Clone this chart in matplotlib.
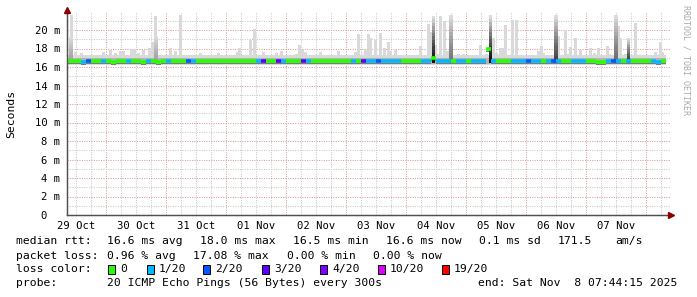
import matplotlib
matplotlib.use("Agg")
import matplotlib.pyplot as plt
from matplotlib.patches import Rectangle

# ---------------- data (x: hours since 29 Oct 00:00, y: milliseconds) ----------------
bin_start_hour = 8.0
bin_width_hours = 2.0

median_ms = [
    16.6, 16.6, 16.6, 16.5, 16.6, 16.6, 16.6, 16.6, 16.6, 16.5,
    16.6, 16.6, 16.6, 16.6, 16.6, 16.5, 16.6, 16.6, 16.5, 16.6,
    16.6, 16.6, 16.6, 16.6, 16.6, 16.6, 16.6, 16.6, 16.6, 16.6,
    16.6, 16.6, 16.6, 16.6, 16.6, 16.6, 16.6, 16.6, 16.6, 16.6,
    16.6, 16.6, 16.6, 16.6, 16.6, 16.6, 16.6, 16.6, 16.6, 16.6,
    16.6, 16.6, 16.6, 16.6, 16.6, 16.6, 16.6, 16.6, 16.6, 16.6,
    16.6, 16.6, 16.6, 16.6, 16.6, 16.6, 16.6, 16.6, 16.6, 16.6,
    16.6, 16.6, 16.6, 17.0, 16.6, 16.6, 16.6, 16.6, 16.6, 16.6,
    16.6, 16.6, 16.6, 16.6, 17.9, 16.6, 16.6, 16.6, 16.6, 16.6,
    16.6, 16.6, 16.6, 16.6, 16.6, 16.6, 16.6, 16.6, 16.6, 16.6,
    16.6, 16.6, 16.6, 16.6, 16.6, 16.6, 16.5, 16.5, 16.6, 16.6,
    16.6, 16.6, 16.6, 16.6, 16.6, 16.6, 16.6, 16.6, 16.5, 16.6,
]

loss_n = [
    0, 0, 0, 1, 2, 0, 0, 1, 0, 0,
    0, 0, 1, 0, 0, 0, 1, 0, 0, 0,
    1, 0, 0, 0, 2, 1, 0, 0, 0, 0,
    0, 0, 0, 0, 0, 0, 0, 0, 1, 3,
    0, 0, 3, 1, 0, 0, 0, 3, 1, 0,
    0, 0, 0, 0, 0, 0, 0, 1, 0, 3,
    1, 1, 2, 1, 1, 1, 1, 0, 0, 0,
    0, 1, 1, 0, 1, 1, 1, 0, 1, 1,
    0, 1, 1, 1, 0, 1, 0, 0, 0, 1,
    1, 1, 2, 1, 1, 0, 1, 2, 1, 0,
    0, 1, 1, 1, 0, 0, 0, 0, 1, 2,
    1, 0, 1, 0, 0, 0, 0, 1, 1, 0,
]

# typical ping spread ("smoke") around the median
smoke_low_ms = 16.2
smoke_high_ms = 17.25
inner_low_ms = 16.3
inner_high_ms = 17.0

# isolated slow pings (light smoke spikes)
spike_hours = [
    10.0, 11.6, 14.0, 15.2, 23.0, 26.0, 28.0, 30.0, 31.2, 32.8, 34.0, 35.2, 37.0, 39.0,
    41.2, 42.8, 44.0, 49.8, 52.0, 54.0, 55.2,
    62.0, 63.0, 69.0, 74.4, 76.4, 77.6, 82.0, 83.4, 85.0, 87.0, 92.0, 94.0, 100.0,
    101.2, 102.4,
    104.0, 105.2, 108.4, 110.0, 117.0, 123.0, 124.0, 125.0, 128.0, 129.0, 130.0, 132.0,
    134.0, 135.4, 137.0, 138.0, 140.0, 148.8, 150.0,
    153.0, 154.0, 155.0, 156.0, 157.2, 158.0, 159.4, 160.8, 162.0, 165.0, 167.0, 172.6,
    174.0, 176.4, 177.8, 179.2, 180.4, 182.0, 183.2, 184.0, 186.8, 188.0, 190.0, 192.4,
    193.6, 196.8, 198.0, 199.2,
    204.0, 205.0, 206.0, 208.0, 209.0, 210.0, 212.0, 214.0, 218.0, 219.4, 221.2, 222.6,
    224.8, 225.6, 228.0, 229.0, 230.0, 232.0, 233.0, 236.0, 237.0, 244.0, 246.0, 246.8,
]
spike_top_ms = [
    21.6, 17.6, 17.5, 17.3, 17.6, 17.8, 17.5, 17.7, 17.7, 17.2, 18.0, 18.0, 17.5, 17.8,
    18.1, 18.7, 21.5, 18.1, 17.7, 21.6, 17.3,
    17.5, 17.3, 17.5, 17.2, 17.6, 18.1, 18.9, 20.1, 17.1, 17.6, 17.5, 17.7, 17.4,
    18.4, 17.8,
    17.6, 17.3, 17.3, 17.6, 17.7, 17.2, 17.6, 19.6, 17.9, 19.6, 19.1, 18.9,
    19.7, 18.1, 18.7, 17.7, 17.8, 17.3, 18.3,
    20.6, 19.8, 21.5, 18.4, 17.4, 21.5, 21.0, 17.7, 21.6, 17.4, 17.4, 17.2,
    18.4, 17.4, 21.6, 19.1, 17.5, 18.1, 18.1, 20.5, 21.1, 21.1, 17.2, 17.2,
    17.3, 17.7, 18.3, 17.5,
    21.6, 19.3, 17.2, 20.0, 17.4, 18.2, 19.1, 17.8, 18.1, 17.5, 18.1, 17.2,
    18.3, 17.4, 21.6, 20.4, 19.1, 17.4, 19.1, 20.8, 17.2, 17.6, 18.7, 17.6,
]

# periods where many pings were slow (dense / dark smoke)
dense_hours = [10.0, 44.0, 155.0, 162.0, 177.8, 204.0, 228.0, 233.0]
dense_top_ms = [19.2, 19.3, 21.5, 21.6, 21.6, 21.6, 21.6, 19.1]
dense_shade = [0.3, 0.3, 1.0, 0.5, 1.0, 0.75, 0.55, 0.8]

day_label_hours = [12, 36, 60, 84, 108, 132, 156, 180, 204, 228]
day_labels = ["29 Oct", "30 Oct", "31 Oct", "01 Nov", "02 Nov",
              "03 Nov", "04 Nov", "05 Nov", "06 Nov", "07 Nov"]
y_ticks = [0, 2, 4, 6, 8, 10, 12, 14, 16, 18, 20]
y_labels = ["0  ", "2 m", "4 m", "6 m", "8 m", "10 m", "12 m",
            "14 m", "16 m", "18 m", "20 m"]

loss_levels = [0, 1, 2, 3, 4, 10, 19]
loss_colors = ["#26ff00", "#00b8ff", "#0059ff", "#5e00ff", "#7e00ff", "#dd00ff", "#ff0000"]
loss_names = ["0", "1/20", "2/20", "3/20", "4/20", "10/20", "19/20"]

# ---------------- figure ----------------
W, H = 697, 297
L, R, T, B = 67, 670, 12, 215
MONO = "DejaVu Sans Mono"
FS_TICK = 7.6
FS_LEG = 8.2

fig = plt.figure(figsize=(W / 100, H / 100), dpi=100)
fig.patch.set_facecolor("white")
ax = fig.add_axes([L / W, 1 - B / H, (R - L) / W, (B - T) / H])
ax.set_xlim(8.4, 8.4 + (R - L) * 0.4)
ax.set_ylim(0, (B - T) / 9.25)

# grid
for h in range(12, 250, 6):
    major = (h % 24 == 0)
    ax.axvline(h, color="#e09a9a" if major else "#c8c8c8", lw=0.75,
               ls=(0, (1, 1.3)), zorder=0)
for v in range(1, 22):
    major = (v % 2 == 0)
    ax.axhline(v, color="#e09a9a" if major else "#c8c8c8", lw=0.75,
               ls=(0, (1, 1.3)), zorder=0)

n = len(median_ms)
starts = [bin_start_hour + i * bin_width_hours for i in range(n)]

# base smoke band
ax.bar(starts, [smoke_high_ms - smoke_low_ms] * n, bottom=smoke_low_ms,
       width=bin_width_hours, align="edge", color="#dadada", lw=0, zorder=1)

# light spikes
ax.bar(spike_hours, [t - smoke_low_ms for t in spike_top_ms], bottom=smoke_low_ms,
       width=1.2, color="#d9d9d9", lw=0, zorder=2)

# inner band
ax.bar(starts, [inner_high_ms - inner_low_ms] * n, bottom=inner_low_ms,
       width=bin_width_hours, align="edge", color="#b3b3b3", lw=0, zorder=3)
ax.bar(starts, [0.12] * n, bottom=[m - 0.3 for m in median_ms],
       width=bin_width_hours, align="edge", color="#7a7a7a", lw=0, zorder=3)

# dense spikes with gradient
nseg = 14
for hh, top, s in zip(dense_hours, dense_top_ms, dense_shade):
    base = inner_low_ms + 0.1
    bottom_g = 0.86 - 0.8 * s
    for k in range(nseg):
        y0 = base + (top - base) * k / nseg
        y1 = base + (top - base) * (k + 1) / nseg
        g = bottom_g + (0.86 - bottom_g) * (k / (nseg - 1)) ** 1.3
        ax.bar([hh], [y1 - y0], bottom=[y0], width=1.3,
               color=(g, g, g), lw=0, zorder=4)

# median coloured by loss
def loss_color(nl):
    c = loss_colors[0]
    for lv, col in zip(loss_levels, loss_colors):
        if nl >= lv:
            c = col
    return c

ax.hlines(median_ms, starts, [s + bin_width_hours for s in starts],
          colors=[loss_color(v) for v in loss_n], lw=2.6, zorder=5,
          capstyle="butt")

# axes styling
for sp in ["top", "right"]:
    ax.spines[sp].set_visible(False)
for sp in ["left", "bottom"]:
    ax.spines[sp].set_color("#505050")
    ax.spines[sp].set_linewidth(0.9)
ax.set_xticks(day_label_hours)
ax.set_xticklabels(day_labels, fontsize=FS_TICK, family=MONO)
ax.set_yticks(y_ticks)
ax.set_yticklabels(y_labels, fontsize=FS_TICK, family=MONO)
ax.tick_params(axis="x", length=0, pad=4.5)
ax.tick_params(axis="y", length=0, pad=5)
ax.set_facecolor("white")

# overlay in pixel coordinates for decorations and legend
ov = fig.add_axes([0, 0, 1, 1], zorder=10)
ov.set_xlim(0, W)
ov.set_ylim(H, 0)
ov.axis("off")
ov.patch.set_alpha(0)

ov.plot([L, L], [B, 9], color="#505050", lw=0.9)
ov.plot([L, 671], [B, B], color="#505050", lw=0.9)
ov.plot([L], [9.5], marker="^", ms=5, color="#8b0000", mec="#8b0000")
ov.plot([670.5], [B], marker=">", ms=5, color="#8b0000", mec="#8b0000")

ov.text(11, 114, "Seconds", rotation=90, ha="center", va="center",
        fontsize=FS_LEG, family=MONO, color="#000000")
ov.text(686, 5, "RRDTOOL / TOBI OETIKER", rotation=-90, ha="center", va="top",
        fontsize=6, family=MONO, color="#aaaaaa")

def t(x, y, s):
    ov.text(x, y, s, fontsize=FS_LEG, family=MONO, ha="left", va="center", color="#000000")

y1, y2, y3, y4 = 241, 256, 269, 283
t(16, y1, "median rtt:")
t(107, y1, "16.6 ms avg")
t(200, y1, "18.0 ms max")
t(293, y1, "16.5 ms min")
t(386, y1, "16.6 ms now")
t(479, y1, "0.1 ms sd")
t(558, y1, "171.5")
t(615, y1, "am/s")

t(16, y2, "packet loss:")
t(107, y2, "0.96 % avg")
t(193, y2, "17.08 % max")
t(287, y2, "0.00 % min")
t(373, y2, "0.00 % now")

t(16, y3, "loss color:")
box_x = [108, 147, 203, 262, 320, 378, 442]
for bx, col, name in zip(box_x, loss_colors, loss_names):
    ov.add_patch(Rectangle((bx, y3 - 4.5), 7, 9, facecolor=col,
                           edgecolor="#000000", lw=0.7))
    t(bx + 12, y3, name)

t(16, y4, "probe:")
t(107, y4, "20 ICMP Echo Pings (56 Bytes) every 300s")
t(478, y4, "end: Sat Nov  8 07:44:15 2025")

fig.savefig("out.png", dpi=100, facecolor="white")
